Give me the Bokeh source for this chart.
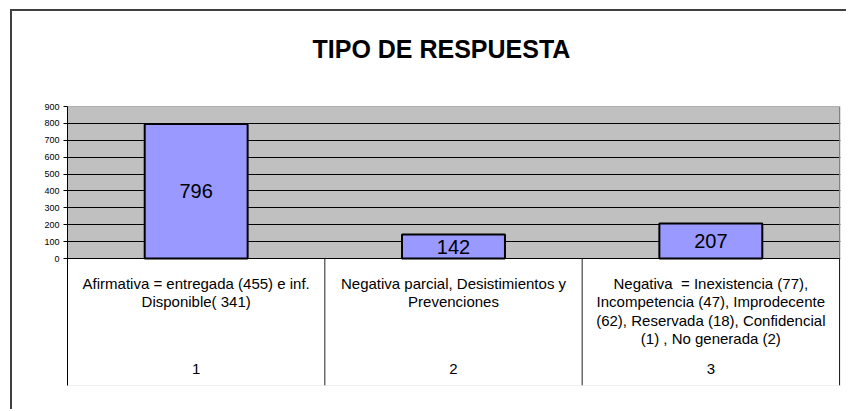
from bokeh.plotting import figure
from bokeh.models import FixedTicker, Range1d
from bokeh.embed import file_html
from bokeh.resources import INLINE
from bokeh.core.properties import value

# ---------------- data ----------------
title_text = "TIPO DE RESPUESTA"
categories = ["1", "2", "3"]
values = [796, 142, 207]
category_labels = [
    "Afirmativa = entregada (455) e inf.\nDisponible( 341)",
    "Negativa parcial, Desistimientos y\nPrevenciones",
    "Negativa \u00a0= Inexistencia (77),\nIncompetencia (47), Improdecente\n(62), Reservada (18), Confidencial\n(1) , No generada (2)",
]
y_ticks = [0, 100, 200, 300, 400, 500, 600, 700, 800, 900]

# ---------------- layout ----------------
FONT = "Liberation Sans"
OX, OY = 12, 11                         # canvas origin on page (after border)
W, H = 848 - OX, 411 - OY
LEFT_B, TOP_B = 67 - OX, 106 - OY
RIGHT_B = (OX + W) - 840
BOTTOM_B = (OY + H) - 385
frame_w = W - LEFT_B - RIGHT_B
frame_h = H - TOP_B - BOTTOM_B
ymax = y_ticks[-1]
ppu = 152.0 / ymax                     # pixels per unit in value area
ymin = ymax - frame_h / ppu            # table area below zero
n = len(categories)
xs = list(range(1, n + 1))
x0 = 0.5
x1 = 0.5 + frame_w * n / (frame_w - 1)

p = figure(width=W, height=H, output_backend="svg", toolbar_location=None,
           x_range=Range1d(x0, x1), y_range=Range1d(ymin, ymax),
           x_axis_location=None, min_border_left=LEFT_B, min_border_right=RIGHT_B,
           min_border_top=TOP_B, min_border_bottom=BOTTOM_B,
           background_fill_color="#C0C0C0", border_fill_color="white",
           outline_line_color=None, title=title_text)
p.styles = {"margin-left": "10px", "margin-top": "9px",
            "border-left": "2px solid #404040", "border-top": "2px solid #404040"}

# title
p.title.text_font = FONT
p.title.text_font_size = "25px"
p.title.text_font_style = "bold"
p.title.text_color = "black"
p.title.align = "left"
p.title.offset = 245
p.title.padding = (0, 0, 0, 22)
p.title.standoff = 43

# y axis
ax = p.yaxis[0]
ax.ticker = FixedTicker(ticks=y_ticks)
ax.axis_line_color = "black"
ax.axis_line_width = 1
ax.major_tick_out = 4
ax.major_tick_in = 0
ax.major_tick_line_color = "black"
ax.minor_tick_line_color = None
ax.major_label_text_font = FONT
ax.major_label_text_font_size = "9px"
ax.major_label_text_color = "black"
ax.major_label_standoff = 4

p.xgrid.visible = False
p.ygrid.ticker = FixedTicker(ticks=y_ticks)
p.ygrid.grid_line_color = "black"
p.ygrid.grid_line_width = 1

# white table area below zero
p.quad(left=x0 - 1, right=x1 + 1, bottom=ymin - 1000, top=0,
       fill_color="white", line_color=None)
# value-area border (top/right grey)
p.quad(left=x0, right=n + 0.5, bottom=0, top=ymax,
       fill_color=None, line_color="#808080", line_width=1)

# bars
p.vbar(x=xs, top=values, width=0.4, fill_color="#9999FF",
       line_color="black", line_width=2)

# zero line
p.segment(x0=[x0], y0=[0], x1=[n + 0.5], y1=[0], line_color="black", line_width=1)
# category dividers
div_x = [i + 0.5 for i in xs]
p.segment(x0=div_x, y0=[0] * n, x1=div_x, y1=[ymin] * n,
          line_color="#222222", line_width=1)

# value labels
p.text(x=xs, y=[v / 2 for v in values], text=[str(v) for v in values],
       text_font=value(FONT), text_font_size="20px", text_align="center",
       text_baseline="middle", text_color="black")

# category labels (line by line)
line_h = 18.3 / ppu
first_y = -25 / ppu
lx, ly, lt = [], [], []
for x, lab in zip(xs, category_labels):
    for k, s in enumerate(lab.split("\n")):
        lx.append(x)
        ly.append(first_y - k * line_h)
        lt.append(s)
p.text(x=lx, y=ly, text=lt, text_font=value(FONT), text_font_size="15px",
       text_align="center", text_baseline="middle", text_color="black")

# category numbers
p.text(x=xs, y=[-110 / ppu] * n, text=categories, text_font=value(FONT),
       text_font_size="15px", text_align="center", text_baseline="middle",
       text_color="black")

open("out.html", "w").write(file_html(p, INLINE))
